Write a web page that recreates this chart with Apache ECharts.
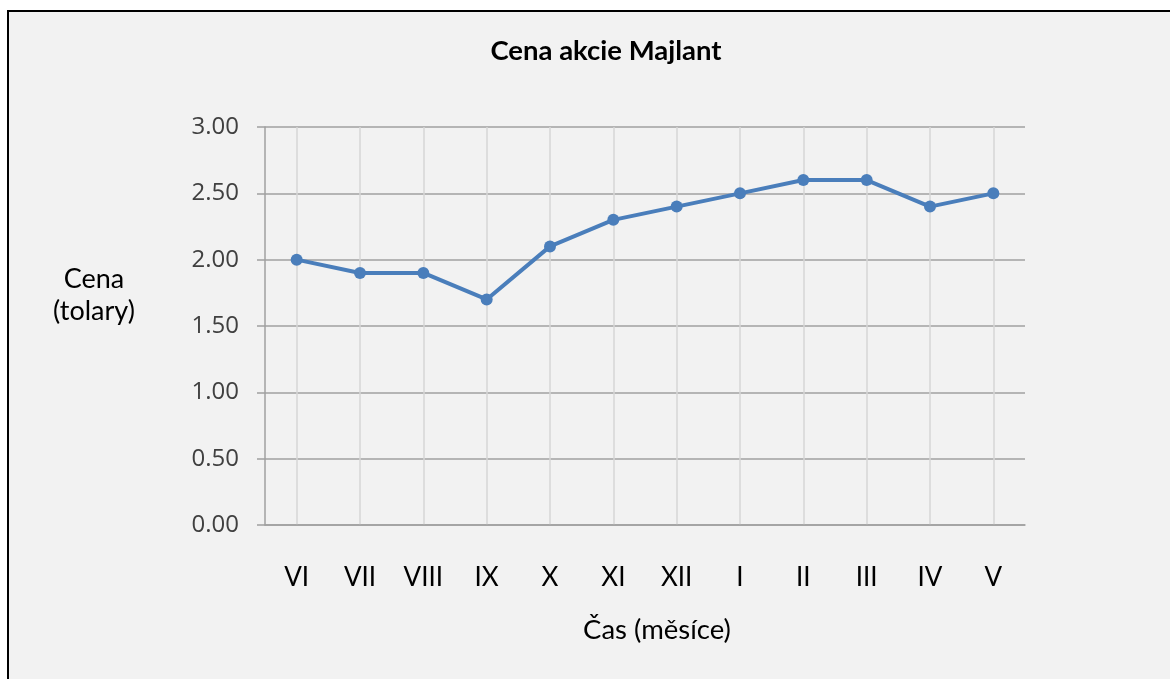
<!DOCTYPE html>
<html>
<head>
<meta charset="utf-8">
<script src="https://cdn.jsdelivr.net/npm/echarts@6/dist/echarts.min.js"></script>
<style>
  html, body { margin: 0; padding: 0; background: #fff; }
  #chart { width: 1170px; height: 679px; }
</style>
</head>
<body>
<div id="chart"></div>
<script>
// months, June to May
var months = ['VI', 'VII', 'VIII', 'IX', 'X', 'XI', 'XII', 'I', 'II', 'III', 'IV', 'V']
var prices = [2.0, 1.9, 1.9, 1.7, 2.1, 2.3, 2.4, 2.5, 2.6, 2.6, 2.4, 2.5]

var chart = echarts.init(document.getElementById('chart'))

var option = {
  animation: false,
  graphic: [{
    type: 'rect',
    z: -10,
    shape: { x: 8, y: 11, width: 1200, height: 700 },
    style: { fill: '#f2f2f2', stroke: '#000', lineWidth: 2 }
  }],
  title: [
    {
      text: 'Cena akcie Majlant',
      left: 606,
      top: 37,
      padding: 0,
      textAlign: 'center',
      textStyle: { fontFamily: 'Lato', fontWeight: 'bold', fontSize: 27.5, color: '#000' }
    },
    {
      text: 'Čas (měsíce)',
      left: 657,
      top: 616,
      padding: 0,
      textAlign: 'center',
      textStyle: { fontFamily: 'Lato', fontWeight: 'normal', fontSize: 27.5, color: '#000' }
    },
    {
      text: 'Cena\n(tolary)',
      left: 94,
      top: 263,
      padding: 0,
      textAlign: 'center',
      textStyle: { fontFamily: 'Lato', fontWeight: 'normal', fontSize: 27, lineHeight: 32, color: '#000' }
    }
  ],
  grid: {
    left: 265,
    right: 145,
    top: 127,
    bottom: 154,
    containLabel: false
  },
  xAxis: {
    type: 'category',
    data: months,
    boundaryGap: true,
    axisLine: { lineStyle: { color: '#a0a0a0', width: 1.5 } },
    axisTick: { alignWithLabel: true, length: 7, lineStyle: { color: '#a0a0a0', width: 1.5 } },
    axisLabel: { margin: 40, fontFamily: 'Lato', fontSize: 26, color: '#000' },
    splitLine: { show: true, alignWithLabel: true, lineStyle: { color: '#d6d6d6', width: 1.5 } }
  },
  yAxis: {
    type: 'value',
    min: 0,
    max: 3,
    interval: 0.5,
    axisLine: { show: true, lineStyle: { color: '#a0a0a0', width: 1.5 } },
    axisTick: { show: true, length: 8, lineStyle: { color: '#a0a0a0', width: 1.5 } },
    axisLabel: {
      margin: 26,
      fontFamily: 'Open Sans',
      fontSize: 24,
      color: '#404040',
      formatter: function (v) { return v.toFixed(2) }
    },
    splitLine: { lineStyle: { color: '#a0a0a0', width: 1.5 } }
  },
  series: [{
    type: 'line',
    data: prices,
    symbol: 'circle',
    symbolSize: 12,
    lineStyle: { color: '#4a7ebb', width: 4 },
    itemStyle: { color: '#4a7ebb' }
  }]
}

chart.setOption(option)
</script>
</body>
</html>
